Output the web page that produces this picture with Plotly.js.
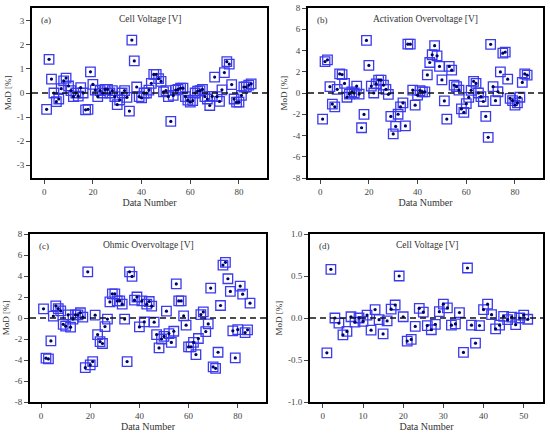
<!DOCTYPE html>
<html>
<head>
<meta charset="utf-8">
<script src="https://cdn.plot.ly/plotly-3.0.1.min.js"></script>
<style>html,body{margin:0;padding:0;background:#fff;}#chart{width:550px;height:435px;}</style>
</head>
<body>
<div id="chart"></div>
<script>
// ---- data ----
const panelTitles = ["Cell Voltage [V]", "Activation Overvoltage [V]", "Ohmic Overvoltage [V]", "Cell Voltage [V]"];
const panelLabels = ["(a)", "(b)", "(c)", "(d)"];

const cellVoltageA = [-0.68,1.40,0.58,0.00,-0.36,-0.25,0.18,0.50,0.62,0.29,
  0.10,-0.15,0.00,-0.13,0.22,0.00,-0.70,-0.68,0.88,0.36,
  0.12,-0.15,0.10,0.00,0.15,0.15,0.00,0.10,-0.15,-0.48,
  -0.29,0.00,0.10,-0.18,-0.75,2.20,1.33,0.25,-0.15,-0.20,
  0.00,0.00,0.12,0.40,0.77,0.77,0.60,0.48,0.05,0.10,
  -0.15,-1.18,-0.10,0.12,0.15,0.20,0.20,-0.15,-0.30,-0.38,
  -0.32,0.00,0.08,0.10,0.15,-0.15,-0.25,-0.52,-0.14,0.66,
  -0.15,-0.35,0.13,0.85,1.30,1.20,0.35,-0.25,-0.38,-0.38,
  -0.10,0.25,0.25,0.33,0.38];

const activationB = [-2.45,2.96,3.12,0.60,-1.04,-1.30,0.35,1.80,1.73,0.90,
  -0.40,-0.10,0.10,0.00,0.65,-0.10,-3.27,-2.02,4.95,2.60,
  0.65,0.00,0.85,1.22,1.22,0.75,0.35,-0.12,-2.20,-3.85,
  -3.15,-2.00,-1.30,-0.93,-3.10,4.60,4.60,0.28,-1.15,-0.20,
  0.22,0.10,0.10,1.70,2.87,3.60,4.45,3.50,2.50,1.23,
  -0.75,-2.45,2.50,2.15,0.75,0.60,0.28,-1.50,-1.82,-1.00,
  -0.42,0.25,1.10,0.90,0.00,-0.35,-0.80,-2.20,-4.17,4.58,
  0.60,-0.72,0.12,1.98,3.75,3.85,1.30,-0.50,-0.72,-1.15,
  -0.93,-0.40,1.00,1.80,1.68];

const ohmicC = [0.87,-3.83,-3.90,-2.18,0.18,1.16,0.90,0.68,-0.60,-0.78,
  0.30,-0.87,-0.10,0.30,0.30,0.50,0.08,-4.73,4.40,-4.47,
  -4.15,0.27,-1.58,-2.25,-2.43,-0.82,-0.10,1.53,2.30,2.30,
  1.63,1.63,1.32,-0.10,-4.15,4.40,3.96,1.70,2.00,-0.85,
  1.63,-0.37,1.32,1.57,1.13,-0.40,-1.58,-2.85,-2.00,-1.75,
  0.65,-1.48,-2.33,-1.26,3.25,1.63,1.63,0.20,-0.68,-2.75,
  -2.75,-2.33,-3.48,-1.95,0.33,0.58,-1.29,-0.56,2.85,-4.66,
  -4.79,-3.26,1.19,5.04,5.30,3.74,2.53,-1.22,-3.80,-1.10,
  3.04,2.27,-1.39,-1.13,1.41];

const cellVoltageD = [-0.415,0.58,0.00,-0.06,-0.20,-0.16,0.015,-0.05,0.00,-0.04,
  0.035,-0.145,0.10,-0.02,-0.19,-0.035,0.105,0.155,0.50,0.015,
  -0.275,-0.255,-0.10,0.115,0.07,-0.09,-0.14,-0.075,0.075,0.165,
  0.12,-0.085,-0.07,0.065,-0.41,0.595,-0.085,-0.30,-0.09,0.10,
  0.165,0.04,-0.13,-0.085,0.02,-0.02,0.01,-0.08,0.00,0.035,
  -0.015];

const seriesList = [cellVoltageA, activationB, ohmicC, cellVoltageD];
const yTickVals = [[-3,-2,-1,0,1,2,3],[-8,-6,-4,-2,0,2,4,6,8],[-8,-6,-4,-2,0,2,4,6,8],[-1,-0.5,0,0.5,1]];
const yTickText = [["-3","-2","-1","0","1","2","3"],["-8","-6","-4","-2","0","2","4","6","8"],["-8","-6","-4","-2","0","2","4","6","8"],["-1.0","-0.5","0.0","0.5","1.0"]];
const xTickVals = [[0,20,40,60,80],[0,20,40,60,80],[0,20,40,60,80],[0,10,20,30,40,50]];
const yRanges = [[-3.53,3.53],[-8,8],[-8,8],[-1,1]];
const xRanges = [[-5,91.5],[-5,91.5],[-4.5,91.5],[-3.2,54.8]];

// ---- layout ----
const W = 550, H = 435;
const boxes = [ // plot area in pixels: left, right, top, bottom
  [32,267,8,178],[308,543,8,178],[30,266,234,402],[310,543,234,402]
];
const fontFam = '"Liberation Serif", "Times New Roman", serif';
const traces = [];
const layout = {
  width: W, height: H, margin:{l:0,r:0,t:0,b:0}, showlegend:false,
  paper_bgcolor:'#fff', plot_bgcolor:'#fff',
  font:{family:fontFam, size:9, color:'#333'},
  shapes:[], annotations:[]
};

seriesList.forEach((ys, i) => {
  const n = i + 1;
  const xs = ys.map((_, k) => k + 1);
  const xa = n === 1 ? 'x' : 'x' + n, ya = n === 1 ? 'y' : 'y' + n;
  traces.push({x:xs, y:ys, xaxis:xa, yaxis:ya, type:'scatter', mode:'markers',
    marker:{symbol:'square-open', size:9.5, color:'#3a3aee', line:{width:1.3, color:'#3a3aee'}},
    hoverinfo:'skip'});
  traces.push({x:xs, y:ys, xaxis:xa, yaxis:ya, type:'scatter', mode:'markers',
    marker:{symbol:'circle', size:3.2, color:'#000066'}, hoverinfo:'skip'});
  const b = boxes[i];
  const axX = {
    domain:[b[0]/W, b[1]/W], anchor: ya, range:xRanges[i],
    tickmode:'array', tickvals:xTickVals[i], ticks:'outside', ticklen:4, tickwidth:1, tickcolor:'#444',
    showline:true, linecolor:'#000', linewidth:2, mirror:true, showgrid:false, zeroline:false,
    tickfont:{family:fontFam, size:9, color:'#444'},
    title:{text:'Data Number', font:{family:fontFam, size:10, color:'#333'}, standoff:3}
  };
  const axY = {
    domain:[1-b[3]/H, 1-b[2]/H], anchor: xa, range:yRanges[i],
    tickmode:'array', tickvals:yTickVals[i], ticktext:yTickText[i], ticks:'outside', ticklen:4, tickwidth:1, tickcolor:'#444',
    showline:true, linecolor:'#000', linewidth:2, mirror:true, showgrid:false, zeroline:false,
    tickfont:{family:fontFam, size:9, color:'#444'},
    title:{text:'MoD [%]', font:{family:fontFam, size:9, color:'#333'}, standoff:4}
  };
  layout[n === 1 ? 'xaxis' : 'xaxis' + n] = axX;
  layout[n === 1 ? 'yaxis' : 'yaxis' + n] = axY;
  layout.shapes.push({type:'line', xref: xa + ' domain', yref: ya, x0:0, x1:1, y0:0, y1:0,
    line:{color:'#111', width:1.6, dash:'6px,4px'}});
  layout.annotations.push({xref: xa + ' domain', yref: ya + ' domain', x:0.5, y:0.975, xanchor:'center', yanchor:'top',
    text: panelTitles[i], showarrow:false, font:{family:fontFam, size:9.5, color:'#333'}});
  layout.annotations.push({xref: xa + ' domain', yref: ya + ' domain', x:0.03, y:0.97, xanchor:'left', yanchor:'top',
    text: panelLabels[i], showarrow:false, font:{family:fontFam, size:9, color:'#333'}});
});

Plotly.newPlot('chart', traces, layout, {displayModeBar:false, staticPlot:true});
</script>
</body>
</html>
